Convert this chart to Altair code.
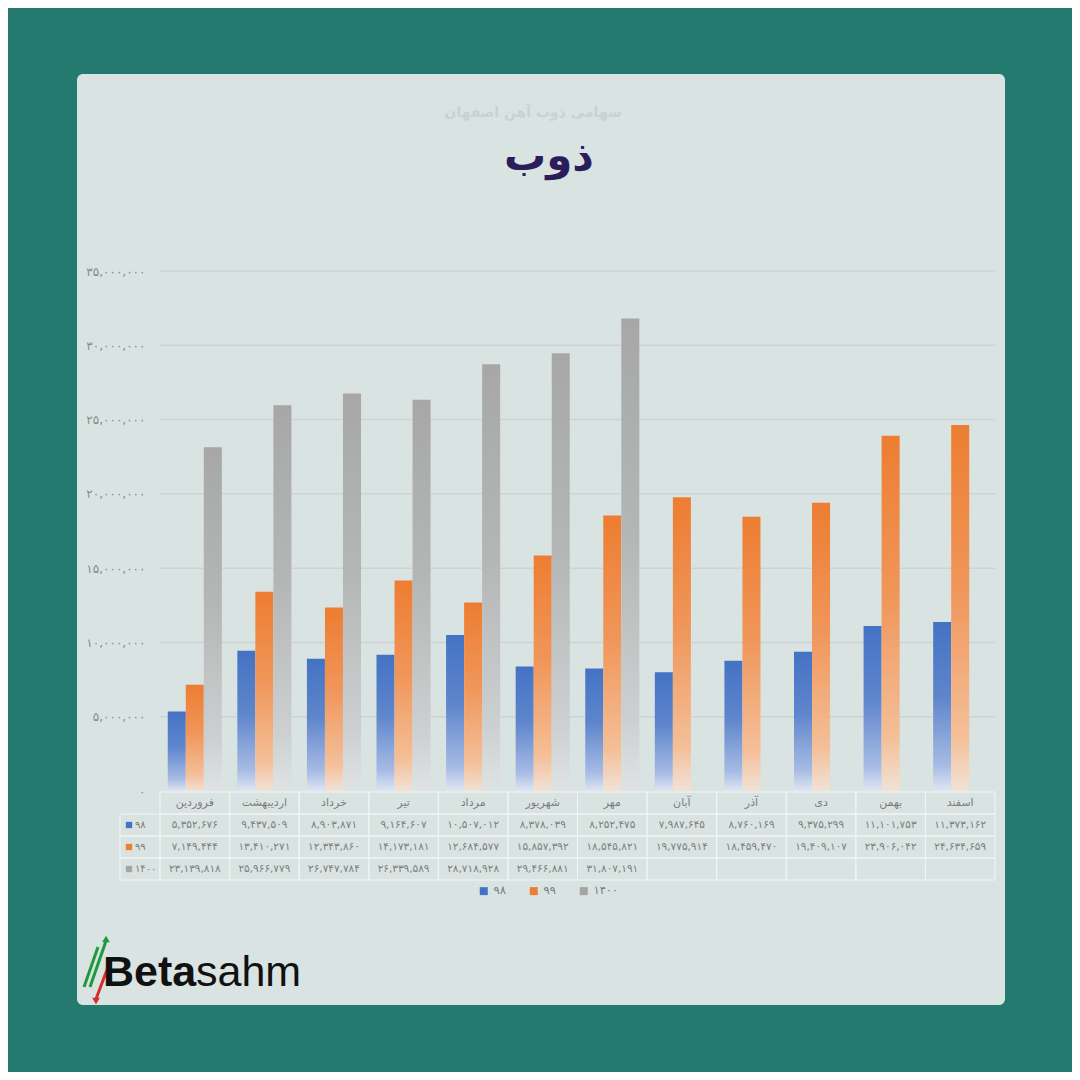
import altair as alt
import pandas as pd

# ---------------- data ----------------
months = ["فروردین", "اردیبهشت", "خرداد", "تیر", "مرداد", "شهریور",
          "مهر", "آبان", "آذر", "دی", "بهمن", "اسفند"]
series = ["98", "99", "1400"]
v98 = [5352676, 9437509, 8903871, 9164607, 10507012, 8378039,
       8252475, 7987645, 8760169, 9375299, 11101753, 11373162]
v99 = [7149444, 13410271, 12343860, 14173181, 12684577, 15857392,
       18545821, 19775914, 18459470, 19409107, 23906042, 24634659]
v1400 = [23139818, 25966779, 26747784, 26339589, 28718928, 29466881,
         31807191, None, None, None, None, None]
y_ticks = [0, 5000000, 10000000, 15000000, 20000000, 25000000, 30000000, 35000000]
title_text = "ذوب"
watermark_text = "سهامی ذوب آهن اصفهان"

FA = str.maketrans("0123456789", "۰۱۲۳۴۵۶۷۸۹")


def fa(s):
    return str(s).translate(FA)


rows = []
for s, vals in zip(series, [v98, v99, v1400]):
    for m, v in zip(months, vals):
        if v is not None:
            rows.append(dict(month=m, series=s, value=v, label=fa(f"{v:,}")))
df = pd.DataFrame(rows)

cells = pd.DataFrame([dict(month=m, row=r) for m in months for r in ["h"] + series])
hdr = pd.DataFrame(dict(month=months, row=["h"] * len(months)))
left = pd.DataFrame(dict(series=series, row=series, label=[fa(s) for s in series]))
grid = pd.DataFrame(dict(v=y_ticks[1:]))
one = pd.DataFrame(dict(a=[0]))

# ---------------- style ----------------
FONT = "DejaVu Sans"
COLORS = {"98": "#4472c4", "99": "#ed7d31", "1400": "#a5a5a5"}
FADES = {"98": ["#4472c4", "#5f86cc", "#a7bbe4", "#dfe6f2"],
         "99": ["#ed7d31", "#f0965a", "#f4bf98", "#f1e2d6"],
         "1400": ["#a7a7a7", "#b4b6b6", "#cdd0d0", "#dfe3e3"]}
TEXT_GRAY = "#7d7d7d"

persian_expr = "datum.label"
for d, p in zip("0123456789", "۰۱۲۳۴۵۶۷۸۹"):
    persian_expr = f"replace({persian_expr}, regexp('{d}', 'g'), '{p}')"

W, H = 835, 520
PL, PT = 152, 263
TOTAL = 1064

x_enc = alt.X("month:N", sort=months,
              scale=alt.Scale(domain=months, paddingInner=0, paddingOuter=0),
              axis=None)
y_scale = alt.Scale(domain=[0, 35000000], nice=False, zero=True)
row_scale = alt.Scale(domain=["h"] + series, range=[H + 1, H + 1 + 4 * 22],
                      paddingInner=0, paddingOuter=0)

card = alt.Chart(one).mark_rect(fill="#dfe6e6", cornerRadius=6, opacity=0.97).encode(
    x=alt.value(-83), x2=alt.value(845), y=alt.value(-197), y2=alt.value(734))

gridlines = alt.Chart(grid).mark_rule(color="#cdd3d3", strokeWidth=1.5).encode(
    x=alt.value(0), x2=alt.value(W),
    y=alt.Y("v:Q", scale=y_scale,
            axis=alt.Axis(values=y_ticks, format=",.0f", labelExpr=persian_expr,
                          domain=False, ticks=False, grid=False, title=None,
                          labelFont=FONT, labelFontSize=12, labelColor="#8a8a8a",
                          labelPadding=15, zindex=1)))


def bars(s):
    c = FADES[s]
    grad = alt.LinearGradient(
        gradient="linear", x1=0, x2=0, y1=0, y2=1,
        stops=[alt.GradientStop(color=c[0], offset=0),
               alt.GradientStop(color=c[1], offset=0.45),
               alt.GradientStop(color=c[2], offset=0.85),
               alt.GradientStop(color=c[3], offset=1)])
    return alt.Chart(df[df.series == s]).mark_bar(fill=grad).encode(
        x=x_enc,
        xOffset=alt.XOffset("series:N", scale=alt.Scale(domain=series, paddingInner=0,
                                                        paddingOuter=0.43)),
        y=alt.Y("value:Q", scale=y_scale, axis=None),
        tooltip=["month", "series", "value"])


table_cells = alt.Chart(cells).mark_rect(fill="transparent", stroke="#f2f5f5",
                                         strokeWidth=1).encode(
    x=x_enc, y=alt.Y("row:N", scale=row_scale, axis=None))

left_cells = alt.Chart(left).mark_rect(fill="transparent", stroke="#f2f5f5",
                                       strokeWidth=1).encode(
    x=alt.value(-40), x2=alt.value(0), y=alt.Y("row:N", scale=row_scale, axis=None))

header_text = alt.Chart(hdr).mark_text(font=FONT, fontSize=11, color=TEXT_GRAY).encode(
    x=x_enc, y=alt.Y("row:N", scale=row_scale, axis=None), text="month:N")

table_text = alt.Chart(df).mark_text(font=FONT, fontSize=10.5, color=TEXT_GRAY).encode(
    x=x_enc, y=alt.Y("series:N", scale=row_scale, axis=None), text="label:N")

left_sq = alt.Chart(left).mark_square(size=40, opacity=1).encode(
    x=alt.value(-31), y=alt.Y("row:N", scale=row_scale, axis=None),
    color=alt.Color("series:N", scale=alt.Scale(domain=series,
                                                range=[COLORS[s] for s in series]),
                    legend=alt.Legend(orient="none", legendX=318, legendY=614,
                                      direction="horizontal", title=None,
                                      symbolType="square", symbolSize=64,
                                      symbolStrokeWidth=0, labelFont=FONT,
                                      labelFontSize=11.5, labelColor=TEXT_GRAY,
                                      labelExpr=persian_expr, columnPadding=22)))

left_text = alt.Chart(left).mark_text(font=FONT, fontSize=10, color=TEXT_GRAY,
                                      align="left").encode(
    x=alt.value(-25), y=alt.Y("row:N", scale=row_scale, axis=None), text="label:N")

watermark = alt.Chart(one).mark_text(font=FONT, fontSize=14, color="#cad1d1",
                                     fontWeight="bold").encode(
    x=alt.value(373), y=alt.value(-158), text=alt.value(watermark_text))

title_mark = alt.Chart(one).mark_text(font=FONT, fontSize=42, fontWeight="bold",
                                      color="#2b1d5c").encode(
    x=alt.value(389), y=alt.value(-114), text=alt.value(title_text))

logo_beta = alt.Chart(one).mark_text(font="Liberation Sans", fontSize=43,
                                     fontWeight="bold", color="#111111",
                                     align="left", baseline="alphabetic").encode(
    x=alt.value(-57), y=alt.value(715), text=alt.value("Beta"))
logo_sahm = alt.Chart(one).mark_text(font="Liberation Sans", fontSize=43,
                                     color="#111111", align="left",
                                     baseline="alphabetic").encode(
    x=alt.value(36), y=alt.value(715), text=alt.value("sahm"))
logo_g1 = alt.Chart(one).mark_rule(color="#1e9a3c", strokeWidth=3).encode(
    x=alt.value(-76), x2=alt.value(-62), y=alt.value(716), y2=alt.value(676))
logo_g2 = alt.Chart(one).mark_rule(color="#1e9a3c", strokeWidth=3).encode(
    x=alt.value(-70), x2=alt.value(-54), y=alt.value(716), y2=alt.value(670))
logo_r = alt.Chart(one).mark_rule(color="#d62b2b", strokeWidth=3).encode(
    x=alt.value(-49), x2=alt.value(-64), y=alt.value(688), y2=alt.value(728))
logo_tip_g = alt.Chart(one).mark_point(shape="triangle-up", filled=True, size=60,
                                       color="#1e9a3c", opacity=1).encode(
    x=alt.value(-54), y=alt.value(668))
logo_tip_r = alt.Chart(one).mark_point(shape="triangle-down", filled=True, size=60,
                                       color="#d62b2b", opacity=1).encode(
    x=alt.value(-64), y=alt.value(730))

chart = alt.layer(
    card, gridlines, bars("98"), bars("99"), bars("1400"),
    table_cells, left_cells, header_text, table_text, left_sq, left_text,
    watermark, title_mark,
    logo_g1, logo_g2, logo_r, logo_tip_g, logo_tip_r, logo_beta, logo_sahm,
).resolve_scale(y="independent").properties(
    width=W, height=H,
    autosize=alt.AutoSizeParams(type="none"),
    padding={"left": PL, "top": PT, "right": TOTAL - PL - W, "bottom": TOTAL - PT - H},
    background="#257a70",
).configure_view(stroke=None)

chart.save("out.html", embed_options={"renderer": "svg", "actions": False})
